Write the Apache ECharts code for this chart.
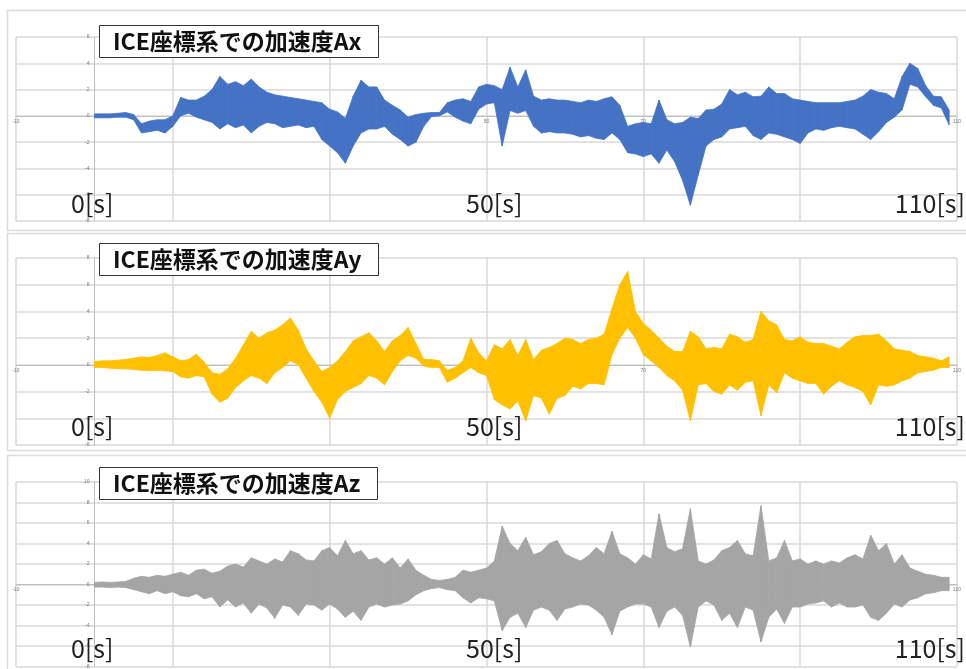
<!DOCTYPE html>
<html>
<head>
<meta charset="utf-8">
<script src="https://cdn.jsdelivr.net/npm/echarts@6/dist/echarts.min.js"></script>
<style>
  html, body { margin: 0; padding: 0; background: #fff; }
  #chart { width: 966px; height: 669px; }
</style>
</head>
<body>
<div id="chart"></div>
<script>
// envelope of each signal, read per second (t = 0 .. 109 s)
const axHi = [0.15,0.15,0.15,0.2,0.25,0.1,-0.6,-0.4,-0.3,-0.3,0.0,1.4,1.2,1.2,1.5,2.0,3.0,2.4,2.6,2.3,
  2.8,2.2,1.8,1.6,1.5,1.4,1.3,1.2,1.1,1.0,0.5,0.3,-0.2,1.5,2.7,2.2,2.2,1.2,0.8,0.45,
  -0.1,0.1,0.2,0.25,0.25,1.0,1.2,1.3,1.1,2.2,2.4,2.3,2.0,3.7,2.2,3.5,1.5,1.2,1.3,1.2,
  1.2,1.1,1.0,1.2,1.1,1.3,1.45,0.8,-0.8,-0.6,-0.5,-0.6,1.2,-0.3,-0.6,-0.5,-0.1,-0.2,0.45,0.5,
  0.9,2.0,1.6,1.8,1.45,1.5,2.2,1.7,1.7,1.3,1.2,1.1,1.0,1.0,1.0,1.0,1.1,1.2,1.5,2.0,
  1.8,1.7,1.3,3.0,4.0,3.6,2.3,1.5,1.45,0.45];
const axLo = [-0.15,-0.15,-0.15,-0.1,-0.1,-0.3,-1.3,-1.2,-1.1,-1.3,-0.8,0.0,0.2,-0.1,-0.3,-0.5,-1.0,-0.6,-0.9,-0.7,
  -1.3,-0.8,-0.5,-0.6,-0.9,-0.8,-0.7,-0.9,-0.8,-1.8,-2.3,-2.8,-3.6,-2.3,-1.3,-1.0,-1.0,-0.8,-1.4,-1.8,
  -2.3,-2.0,-0.8,-0.05,0.0,0.3,-0.1,-0.4,-0.6,0.5,0.9,1.0,-2.3,0.4,0.2,0.4,-0.8,-1.3,-1.2,-1.3,
  -1.3,-1.4,-1.6,-1.5,-1.7,-1.8,-1.3,-1.8,-2.8,-2.9,-3.1,-2.9,-3.6,-2.6,-3.5,-4.9,-6.8,-4.5,-2.3,-1.8,
  -1.6,-1.0,-0.9,-0.8,-1.5,-1.8,-1.3,-1.4,-1.6,-1.8,-2.1,-1.3,-1.0,-1.1,-0.9,-0.8,-0.9,-1.0,-1.4,-1.8,
  -1.2,-0.5,-0.1,0.45,2.4,2.2,1.45,0.8,0.6,-0.7];

const ayHi = [0.25,0.3,0.3,0.35,0.4,0.5,0.6,0.55,0.7,0.9,0.6,0.3,0.4,0.8,0.2,-0.6,-0.7,-0.3,0.5,1.5,
  2.5,2.0,2.4,2.6,3.0,3.5,2.6,1.2,0.3,-0.5,-0.2,0.3,1.0,1.8,2.1,2.4,1.8,1.0,1.8,2.2,
  2.8,1.6,0.4,0.4,0.3,-0.4,-0.2,0.3,2.0,0.9,0.3,1.5,1.2,1.9,0.7,1.9,0.4,1.1,1.3,1.6,
  2.0,1.9,1.6,1.9,2.0,2.3,4.2,6.0,7.0,4.0,3.1,2.6,2.0,1.4,1.0,1.0,2.5,2.1,1.2,1.3,
  1.2,2.3,2.1,1.7,1.9,4.0,3.3,3.0,1.9,1.8,2.1,1.7,1.6,1.6,1.4,1.2,1.7,2.1,2.2,2.2,
  2.3,1.8,1.2,1.1,1.0,0.7,0.6,0.5,0.3,0.6];
const ayLo = [-0.2,-0.2,-0.25,-0.3,-0.3,-0.35,-0.4,-0.45,-0.4,-0.45,-0.5,-0.9,-1.0,-0.8,-0.9,-2.2,-2.8,-2.5,-1.7,-1.2,
  -0.8,-1.0,-1.4,-0.6,-0.2,0.3,0.0,-1.0,-2.0,-2.8,-4.0,-2.6,-2.0,-1.7,-1.4,-0.8,-1.0,-1.5,-0.5,0.3,
  0.7,0.5,-0.1,-0.2,-0.2,-1.3,-1.0,-0.6,-0.2,-0.6,-0.8,-2.6,-3.0,-3.3,-2.7,-4.2,-2.3,-2.5,-3.7,-2.5,
  -2.3,-1.6,-1.8,-1.4,-1.4,-1.5,0.75,2.0,2.8,2.0,0.75,0.3,-0.2,-0.8,-1.2,-1.9,-4.2,-1.5,-1.4,-2.0,
  -2.2,-1.5,-1.9,-1.3,-1.2,-3.8,-1.5,-2.1,-0.6,-1.0,-1.2,-1.4,-1.4,-2.2,-1.6,-1.2,-1.5,-1.7,-2.0,-3.0,
  -1.5,-1.6,-1.5,-1.2,-1.0,-0.6,-0.5,-0.4,-0.2,-0.2];

const azHi = [0.2,0.25,0.2,0.25,0.3,0.6,0.8,0.7,0.9,0.8,1.0,1.2,0.9,1.4,1.5,1.1,1.3,1.8,2.0,1.7,
  2.6,2.3,2.0,2.5,2.2,3.3,3.0,2.4,2.3,3.3,3.6,2.8,4.3,3.0,3.3,2.4,2.6,2.0,2.6,1.6,
  2.5,1.4,0.9,0.5,0.4,0.5,0.7,1.4,1.2,1.4,1.6,2.3,5.7,4.0,3.3,4.6,2.9,3.2,4.0,4.3,
  3.0,2.6,2.3,2.8,3.6,3.0,5.2,3.0,2.6,2.0,2.9,2.5,6.9,3.6,3.2,3.5,7.4,2.3,2.0,2.4,
  3.3,3.6,4.3,3.0,2.8,7.7,2.3,2.6,4.3,2.3,2.5,2.0,2.3,2.0,2.3,2.1,2.6,2.9,2.5,4.8,
  3.3,4.0,2.0,2.9,1.6,1.3,1.0,0.9,0.7,0.7];
const azLo = [-0.25,-0.25,-0.3,-0.25,-0.3,-0.5,-0.7,-0.9,-0.6,-0.9,-0.7,-1.1,-1.2,-0.9,-1.4,-1.2,-2.2,-1.5,-2.2,-1.8,
  -2.8,-1.9,-2.3,-3.3,-2.0,-2.2,-3.0,-1.9,-2.0,-2.5,-1.9,-2.4,-3.2,-2.6,-3.5,-2.2,-1.9,-2.2,-2.0,-1.9,
  -1.6,-1.0,-0.6,-0.4,-0.3,-0.5,-0.6,-1.3,-1.8,-1.3,-1.4,-1.6,-4.5,-3.2,-2.8,-4.2,-2.5,-2.2,-2.5,-3.5,
  -2.4,-2.2,-1.9,-2.0,-2.5,-3.2,-4.9,-2.6,-2.2,-1.9,-1.9,-2.2,-4.2,-2.6,-2.2,-3.0,-6.1,-2.2,-1.6,-2.0,
  -3.5,-2.8,-4.2,-2.2,-2.5,-5.6,-3.2,-2.4,-3.8,-2.2,-2.2,-1.9,-1.8,-1.6,-2.2,-1.8,-2.2,-2.2,-2.0,-3.2,
  -3.5,-2.8,-1.9,-2.2,-1.5,-1.3,-0.9,-0.8,-0.6,-0.6];

const titles = ['ICE座標系での加速度Ax', 'ICE座標系での加速度Ay', 'ICE座標系での加速度Az'];
const colors = ['#4472c4', '#ffc000', '#a5a5a5'];
const yRanges = [[-8, 6], [-6, 8], [-8, 10]];
const xRange = [-10, 110];
const timeLabels = ['0[s]', '50[s]', '110[s]'];

const chartW = 966, gridLeft = 16, gridRight = 9;
const panels = [
  {hi: axHi, lo: axLo, top: 37, height: 184, frameTop: 8, frameH: 220, boxTop: 25, labelY: 207},
  {hi: ayHi, lo: ayLo, top: 258, height: 187, frameTop: 231, frameH: 217, boxTop: 243, labelY: 430},
  {hi: azHi, lo: azLo, top: 482, height: 185, frameTop: 453, frameH: 220, boxTop: 467, labelY: 652}
];

const tinyLabel = {fontSize: 5, color: '#777', fontFamily: 'Liberation Sans'};
const gridLine = {show: true, lineStyle: {color: '#d9d9d9', width: 1.5}};

// one polygon per second, from (t, lo..hi) to (t+1, lo..hi)
function bandItem(params, api) {
  const color = colors[params.seriesIndex];
  const p0 = api.coord([api.value(0), api.value(1)]);
  const p1 = api.coord([api.value(0), api.value(2)]);
  const p2 = api.coord([api.value(3), api.value(5)]);
  const p3 = api.coord([api.value(3), api.value(4)]);
  return {
    type: 'polygon',
    shape: {points: [p0, p1, p2, p3]},
    style: {fill: color, stroke: color, lineWidth: 0.8}
  };
}

let grid = [], xAxis = [], yAxis = [], series = [], title = [], graphic = [];
const plotW = chartW - gridLeft - gridRight;

panels.forEach((p, k) => {
  const yr = yRanges[k];
  grid.push({left: gridLeft, right: gridRight, top: p.top, height: p.height});
  // axes sit on the zero lines, labels follow them
  xAxis.push({
    type: 'value', gridIndex: k, min: xRange[0], max: xRange[1], interval: 20,
    position: 'bottom', offset: -p.height * (0 - yr[0]) / (yr[1] - yr[0]),
    axisLine: {onZero: false, lineStyle: {color: '#bfbfbf', width: 1}},
    axisTick: {show: false},
    axisLabel: Object.assign({margin: 3}, tinyLabel),
    splitLine: gridLine
  });
  yAxis.push({
    type: 'value', gridIndex: k, min: yr[0], max: yr[1], interval: 2,
    position: 'left', offset: -plotW * (0 - xRange[0]) / (xRange[1] - xRange[0]),
    axisLine: {show: true, onZero: false, lineStyle: {color: '#bfbfbf', width: 1}},
    axisTick: {show: false},
    axisLabel: Object.assign({margin: 5}, tinyLabel),
    splitLine: gridLine
  });
  const rows = [];
  for (let i = 0; i + 1 < p.hi.length; i++) {
    rows.push([i, p.lo[i], p.hi[i], i + 1, p.lo[i + 1], p.hi[i + 1]]);
  }
  series.push({
    type: 'custom', xAxisIndex: k, yAxisIndex: k, silent: true,
    renderItem: bandItem,
    encode: {x: [0, 3], y: [1, 2, 4, 5]},
    data: rows
  });
  title.push({
    text: titles[k], left: 99, top: p.boxTop,
    padding: [5, 17, 5, 14], borderColor: '#333', borderWidth: 1, backgroundColor: '#fff',
    textStyle: {fontSize: 23, lineHeight: 23, fontWeight: 'bold', color: '#111', fontFamily: 'Noto Sans CJK JP'}
  });
  graphic.push({
    type: 'rect', left: 5, top: p.frameTop, silent: true, z: -1,
    shape: {width: 970, height: p.frameH},
    style: {fill: 'none', stroke: '#dcdcdc', lineWidth: 1.5}
  });
  const lbl = {fill: '#222', font: '25px "Noto Sans CJK JP"'};
  graphic.push({type: 'text', left: 71, top: p.labelY - 16, silent: true, z: 10, style: Object.assign({text: timeLabels[0]}, lbl)});
  graphic.push({type: 'text', left: 466, top: p.labelY - 16, silent: true, z: 10, style: Object.assign({text: timeLabels[1]}, lbl)});
  graphic.push({type: 'text', right: 1, top: p.labelY - 16, silent: true, z: 10, style: Object.assign({text: timeLabels[2]}, lbl)});
});

const chart = echarts.init(document.getElementById('chart'));
chart.setOption({
  animation: false,
  backgroundColor: '#fff',
  title: title,
  grid: grid,
  xAxis: xAxis,
  yAxis: yAxis,
  series: series,
  graphic: graphic
});
</script>
</body>
</html>
